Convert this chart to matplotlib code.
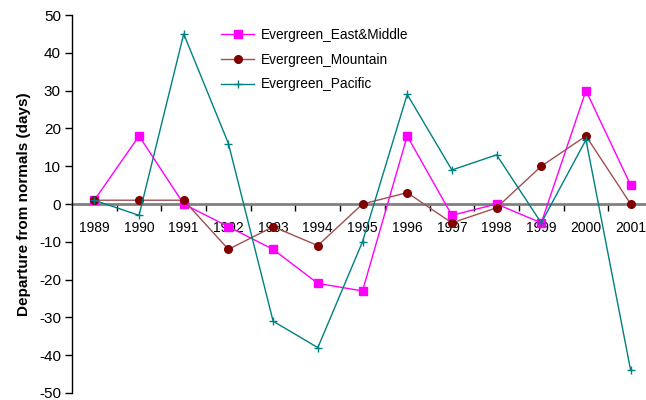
import matplotlib
matplotlib.use("Agg")
import matplotlib.pyplot as plt

years = ["1989", "1990", "1991", "1992", "1993", "1994", "1995",
         "1996", "1997", "1998", "1999", "2000", "2001"]
east_middle = [1, 18, 0, -6, -12, -21, -23, 18, -3, 0, -5, 30, 5]
mountain = [1, 1, 1, -12, -6, -11, 0, 3, -5, -1, 10, 18, 0]
pacific = [1, -3, 45, 16, -31, -38, -10, 29, 9, 13, -5, 17, -44]
yticks = [50, 40, 30, 20, 10, 0, -10, -20, -30, -40, -50]

plt.rcParams['font.family'] = ['Liberation Sans', 'DejaVu Sans']

fig = plt.figure(figsize=(6.46, 4.0), dpi=100)
ax = fig.add_axes([72/646, 7/400, 581/646, 378/400])

x = list(range(len(years)))
ax.plot(x, east_middle, color='#FF00FF', lw=1.0, marker='s', ms=5.5,
        mfc='#FF00FF', mec='#FF00FF', label='Evergreen_East&Middle', zorder=3)
ax.plot(x, mountain, color='#A05050', lw=1.0, marker='o', ms=5.5,
        mfc='#800000', mec='#800000', label='Evergreen_Mountain', zorder=3)
ax.plot(x, pacific, color='#008080', lw=1.0, marker='+', ms=6, mew=1.0,
        label='Evergreen_Pacific', zorder=3)

ax.set_xlim(-0.5, len(years) - 0.5)
ax.set_ylim(-50, 50)
ax.set_yticks(yticks)
ax.set_yticklabels([str(v) for v in yticks], fontsize=11)

ax.set_xticks(x)
ax.set_xticklabels(years, fontsize=11)
ax.set_xticks([i + 0.5 for i in x[:-1]], minor=True)
ax.tick_params(axis='x', which='major', length=0, pad=12)
ax.tick_params(axis='x', which='minor', length=5, width=1, direction='out', color='black')
ax.tick_params(axis='y', length=5, width=1, direction='out', pad=3)

for s in ['top', 'right']:
    ax.spines[s].set_visible(False)
ax.spines['bottom'].set_position(('data', 0))
ax.spines['bottom'].set_color('#808080')
ax.spines['bottom'].set_linewidth(2)
ax.spines['bottom'].set_zorder(2)
ax.spines['left'].set_color('black')
ax.spines['left'].set_linewidth(1)

ax.set_ylabel('Departure from normals (days)', fontsize=11, fontweight='bold', labelpad=6)

leg = ax.legend(loc='upper left', bbox_to_anchor=(0.236, 0.999), frameon=False,
                fontsize=9.8, handlelength=2.4, handletextpad=0.5, labelspacing=0.8)

fig.savefig('out.png', dpi=100)
